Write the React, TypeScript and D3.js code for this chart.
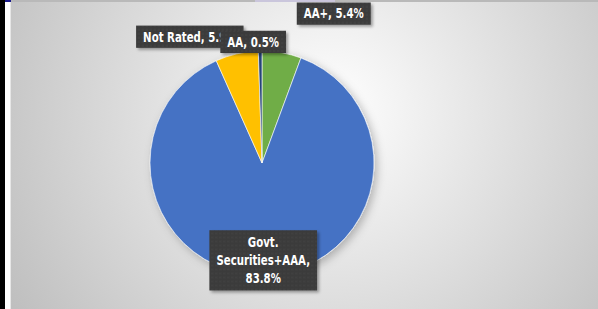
import React, { useEffect, useRef } from 'react';
import * as d3 from 'd3';

// slice order as drawn clockwise from 12 o'clock
const categories = ['AA+', 'Govt. Securities+AAA', 'Not Rated', 'AA'];
const values = [5.4, 83.8, 5.9, 0.5];
const labelLines = [
  ['AA+, 5.4%'],
  ['Govt.', 'Securities+AAA,', '83.8%'],
  ['Not Rated, 5.9%'],
  ['AA, 0.5%'],
];
const colors = ['#70AD47', '#4472C4', '#FFC000', '#264478'];

const W = 598;
const H = 309;

const App: React.FC = () => {
  const svgRef = useRef<SVGSVGElement>(null);

  useEffect(() => {
    if (!svgRef.current) return;
    d3.select(svgRef.current).selectAll('*').remove();

    const svg = d3.select(svgRef.current).attr('width', W).attr('height', H);
    const defs = svg.append('defs');

    const bg = defs.append('radialGradient')
      .attr('id', 'bg')
      .attr('gradientUnits', 'userSpaceOnUse')
      .attr('cx', 330).attr('cy', 110).attr('r', 390);
    bg.append('stop').attr('offset', 0).attr('stop-color', '#ffffff');
    bg.append('stop').attr('offset', 1).attr('stop-color', '#bcbcbc');

    const pat = defs.append('pattern')
      .attr('id', 'dots')
      .attr('patternUnits', 'userSpaceOnUse')
      .attr('width', 4).attr('height', 4);
    pat.append('rect').attr('width', 4).attr('height', 4).attr('fill', '#3b3b3b');
    pat.append('circle').attr('cx', 1).attr('cy', 1).attr('r', 0.7).attr('fill', '#4c4c4c');

    const shadow = defs.append('filter').attr('id', 'shadow')
      .attr('x', '-20%').attr('y', '-20%').attr('width', '150%').attr('height', '150%');
    shadow.append('feDropShadow')
      .attr('dx', 2).attr('dy', 2).attr('stdDeviation', 1.5)
      .attr('flood-color', '#000').attr('flood-opacity', 0.35);

    const pieShadow = defs.append('filter').attr('id', 'pieShadow')
      .attr('x', '-20%').attr('y', '-20%').attr('width', '150%').attr('height', '150%');
    pieShadow.append('feDropShadow')
      .attr('dx', 3).attr('dy', 3).attr('stdDeviation', 4)
      .attr('flood-color', '#000').attr('flood-opacity', 0.25);

    // frame pieces
    svg.append('rect').attr('x', 0).attr('y', 0).attr('width', W).attr('height', H).attr('fill', '#ffffff');
    svg.append('rect').attr('x', 0).attr('y', 0).attr('width', 5).attr('height', H).attr('fill', '#000000');
    svg.append('rect').attr('x', 10).attr('y', 2).attr('width', W - 10).attr('height', H - 2).attr('fill', 'url(#bg)');
    svg.append('rect').attr('x', 10).attr('y', 0).attr('width', W - 10).attr('height', 2).attr('fill', '#b9b9b9');
    svg.append('rect').attr('x', 255).attr('y', 0).attr('width', 80).attr('height', 2).attr('fill', '#cac6dc');
    svg.append('rect').attr('x', 5).attr('y', 0).attr('width', 6).attr('height', 2).attr('fill', '#1a1a8c');
    svg.append('line').attr('x1', 10.5).attr('x2', 10.5).attr('y1', 2).attr('y2', H)
      .attr('stroke', '#e6e6e6').attr('stroke-width', 1);

    const cx = 262;
    const cy = 163;
    const r = 112;

    const pie = d3.pie<number>().sort(null).value(d => d);
    const arcs = pie(values);
    const arc = d3.arc<d3.PieArcDatum<number>>().innerRadius(0).outerRadius(r);

    const g = svg.append('g').attr('transform', `translate(${cx},${cy})`);
    g.append('g').attr('filter', 'url(#pieShadow)')
      .selectAll('path')
      .data(arcs)
      .enter()
      .append('path')
      .attr('d', arc)
      .attr('fill', (d, i) => colors[i])
      .attr('stroke', '#ffffff')
      .attr('stroke-width', 0.6);

    // label anchors: point on rim at mid-angle (Govt inside), then nudged like Excel's best fit
    const anchorRadius = [r, r * 0.88, r, r];
    const nudge: [number, number][] = [[52, -39], [-2, -1], [-47, -17], [-7, -9]];
    const drawOrder = [0, 2, 3, 1];

    const fontSize = 13.5;
    const squeeze = 0.84; // narrow the glyphs to approximate Calibri
    const lineH = 18;

    drawOrder.forEach(i => {
      const a = arcs[i];
      const mid = (a.startAngle + a.endAngle) / 2;
      const lx = anchorRadius[i] * Math.sin(mid) + nudge[i][0];
      const ly = -anchorRadius[i] * Math.cos(mid) + nudge[i][1];
      const lines = labelLines[i];

      const lg = g.append('g').attr('transform', `translate(${lx},${ly})`);
      const box = lg.append('rect').attr('fill', 'url(#dots)').attr('filter', 'url(#shadow)');
      const txt = lg.append('text')
        .attr('transform', `scale(${squeeze},1)`)
        .attr('text-anchor', 'middle')
        .attr('fill', '#ffffff')
        .attr('font-family', "'Liberation Sans Narrow', 'DejaVu Sans Condensed', sans-serif")
        .attr('font-weight', 'bold')
        .attr('font-size', fontSize);
      lines.forEach((t, k) => {
        txt.append('tspan')
          .attr('x', 0)
          .attr('y', (k - (lines.length - 1) / 2) * lineH)
          .attr('dy', '0.35em')
          .text(t);
      });
      const bb = (txt.node() as SVGTextElement).getBBox();
      const padX = 7;
      const padY = lines.length > 1 ? 4 : 3;
      box.attr('x', bb.x * squeeze - padX).attr('y', bb.y - padY)
        .attr('width', bb.width * squeeze + padX * 2).attr('height', bb.height + padY * 2);
    });
  }, []);

  return (
    <svg ref={svgRef} style={{ position: 'absolute', left: 0, top: 0, display: 'block' }}></svg>
  );
};

export default App;
